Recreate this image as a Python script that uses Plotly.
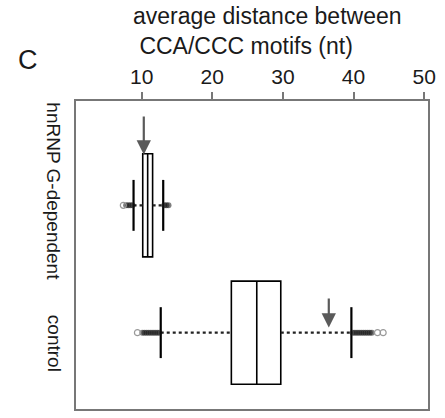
import plotly.graph_objects as go

# ---- data ----
categories = ["hnRNP G-dependent", "control"]
cat_pos = [1, 0]
q1 = [10.15, 22.7]
median = [10.85, 26.3]
q3 = [11.55, 29.7]
lower_whisker = [8.85, 12.7]
upper_whisker = [13.05, 39.7]
outliers_filled = [
    [7.8, 8.1, 8.4, 8.7, 13.2, 13.5, 13.8],
    [10.1, 10.4, 10.7, 11.0, 11.3, 11.6, 11.9, 12.2, 12.5,
     39.9, 40.2, 40.5, 40.8, 41.1, 41.4, 41.7, 42.0, 42.3, 42.6],
]
outliers_open = [
    [7.4],
    [9.4, 43.4, 44.2],
]
arrow_x = [10.3, 36.5]
tick_vals = [10, 20, 30, 40, 50]
x_title = "average distance between<br> CCA/CCC motifs (nt)"
panel_label = "C"

FONT = "Arial, Liberation Sans, sans-serif"
fig = go.Figure()

# boxes
fig.add_trace(go.Box(
    y=cat_pos, q1=q1, median=median, q3=q3,
    lowerfence=q1, upperfence=q3,
    orientation="h", width=0.81, boxpoints=False,
    fillcolor="white", line=dict(color="black", width=1.6),
    showlegend=False, hoverinfo="skip",
))

cap_half = 0.2
for i, yp in enumerate(cat_pos):
    # dotted whiskers
    fig.add_trace(go.Scatter(
        x=[lower_whisker[i], q1[i]], y=[yp, yp], mode="lines",
        line=dict(color="#222", width=2.2, dash="dot"), showlegend=False, hoverinfo="skip"))
    fig.add_trace(go.Scatter(
        x=[q3[i], upper_whisker[i]], y=[yp, yp], mode="lines",
        line=dict(color="#222", width=2.2, dash="dot"), showlegend=False, hoverinfo="skip"))
    # caps
    for wv in (lower_whisker[i], upper_whisker[i]):
        fig.add_trace(go.Scatter(
            x=[wv, wv], y=[yp - cap_half, yp + cap_half], mode="lines",
            line=dict(color="black", width=2.2), showlegend=False, hoverinfo="skip"))
    # outliers
    fig.add_trace(go.Scatter(
        x=outliers_filled[i], y=[yp] * len(outliers_filled[i]), mode="markers",
        marker=dict(size=6, color="rgba(20,20,20,0.55)", line=dict(width=0)),
        showlegend=False, hoverinfo="skip"))
    fig.add_trace(go.Scatter(
        x=outliers_open[i], y=[yp] * len(outliers_open[i]), mode="markers",
        marker=dict(size=6, symbol="circle-open", color="#999", line=dict(width=1.2)),
        showlegend=False, hoverinfo="skip"))

# arrows
arrow_tip = [1.40, 0.04]
arrow_tail = [1.71, 0.28]
for i in range(2):
    fig.add_annotation(
        x=arrow_x[i], y=arrow_tip[i], ax=arrow_x[i], ay=arrow_tail[i],
        xref="x", yref="y", axref="x", ayref="y",
        showarrow=True, arrowhead=2, arrowsize=1.3, arrowwidth=2.2,
        arrowcolor="#5a5a5a", text="")

# category labels (rotated)
label_y = [1.11, -0.08]
for i, c in enumerate(categories):
    fig.add_annotation(
        x=(54 - 76) / 352, y=label_y[i], xref="paper", yref="y", text=c,
        xanchor="center", yanchor="middle",
        textangle=90, showarrow=False,
        font=dict(family=FONT, size=19, color="#1a1a1a"))

# axis title
fig.add_annotation(
    x=(131 - 76) / 352, y=(411 - 31) / 310, xref="paper", yref="paper",
    xanchor="left", yanchor="middle", align="left", text=x_title,
    showarrow=False, font=dict(family=FONT, size=23, color="#1a1a1a"))
# panel label
fig.add_annotation(
    x=(28 - 76) / 352, y=(411 - 60) / 310, xref="paper", yref="paper",
    xanchor="center", yanchor="middle",
    text=panel_label, showarrow=False,
    font=dict(family=FONT, size=27, color="#1a1a1a"))

fig.update_layout(
    width=445, height=418,
    margin=dict(l=76, r=17, t=101, b=7),
    paper_bgcolor="white", plot_bgcolor="white",
    boxmode="overlay",
    xaxis=dict(
        side="top", range=[0.7, 50.55], tickvals=tick_vals,
        ticks="outside", ticklen=7, tickwidth=1.5, tickcolor="#777",
        showline=True, mirror=True, linecolor="#777", linewidth=2,
        showgrid=False, zeroline=False,
        tickfont=dict(family=FONT, size=21, color="#1a1a1a"),
    ),
    yaxis=dict(
        range=[-0.60, 1.82], showticklabels=False, ticks="",
        showline=True, mirror=True, linecolor="#777", linewidth=2,
        showgrid=False, zeroline=False,
    ),
)

fig.write_html("out.html", config={"displayModeBar": False},
               post_script="document.body.style.margin='0px';document.body.style.overflow='hidden';")
